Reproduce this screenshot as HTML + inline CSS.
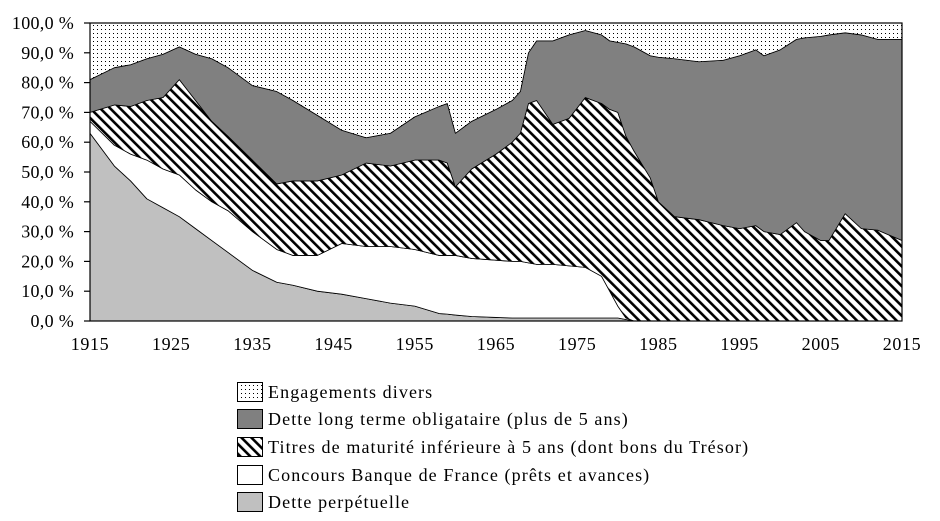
<!DOCTYPE html>
<html><head><meta charset="utf-8"><style>
body{margin:0;background:#fff;}
svg{display:block;font-family:"Liberation Serif",serif;}
</style></head><body>
<svg id="chart" width="940" height="521" viewBox="0 0 940 521" xmlns="http://www.w3.org/2000/svg">
<defs>
<pattern id="dots" patternUnits="userSpaceOnUse" width="4" height="4"><rect width="4" height="4" fill="#fff"/><rect x="1" y="1" width="1" height="1" fill="#000"/></pattern>
<pattern id="hatch" patternUnits="userSpaceOnUse" width="7" height="7" patternTransform="rotate(-45)"><rect width="7" height="7" fill="#fff"/><rect x="0" y="0" width="2.6" height="7" fill="#000"/></pattern>
</defs>
<g id="areas"></g>
<g id="axes"></g>
<g id="legend"></g>
</svg>
<script>
const years=[1915,1918,1920,1922,1924,1926,1928,1930,1932,1935,1938,1940,1943,1946,1949,1952,1955,1958,1959,1960,1962,1965,1967,1968,1969,1970,1972,1974,1976,1978,1979,1980,1981,1982,1984,1985,1987,1990,1993,1995,1997,1998,2000,2002,2003,2005,2006,2008,2010,2012,2015];
const perpetuelle=[63,52,47,41,38,35,31,27,23,17,13,12,10,9,7.5,6,5,2.5,2.3,2,1.5,1.2,1,1,1,1,1,1,1,1,1,1,0.5,0,0,0,0,0,0,0,0,0,0,0,0,0,0,0,0,0,0];
const concours=[4,7,9,13,13,14,13,13,14,13,11,10,12,17,17.5,19,19,19.5,19.7,20,19.5,19.2,19,19,18.5,18,18,17.5,17,14,9,4,0.5,0,0,0,0,0,0,0,0,0,0,0,0,0,0,0,0,0,0];
const titres=[3,13.5,16,20,24,32,30,27,25,24,22,25,25,23,28,27,30,32,31,23,30,35.6,40,43,53.5,55,47,49.5,57,58,61,65,61,57,48,40,35,34,32,31,32,30,29,33,30,27,27,36,31,30.5,27];
const longTerme=[11,12.5,14,14,14.5,11,15.5,21,23,25,31,27,22,15,8.5,11,14.5,18,20,18,16,15,14,14,17,20,28,28,22.5,23,23,23.5,31,35,41,48.5,53,53,55.5,58,59,59,62,61.5,65,68.5,69,60.7,65,64,67.5];
const divers=[19,15,14,12,10.5,8,10.5,12,15,21,23,26,31,36,38.5,37,31.5,28,27,37,33,29,26,23,10,6,6,4,2.5,4,6,6.5,7,8,11,11.5,12,13,12.5,11,9,11,9,5.5,5,4.5,4,3.3,4,5.5,5.5];
const yTicks=["0,0 %","10,0 %","20,0 %","30,0 %","40,0 %","50,0 %","60,0 %","70,0 %","80,0 %","90,0 %","100,0 %"];
const xTicks=[1915,1925,1935,1945,1955,1965,1975,1985,1995,2005,2015];
const legendLabels=["Engagements divers","Dette long terme obligataire (plus de 5 ans)","Titres de maturité inférieure à 5 ans (dont bons du Trésor)","Concours Banque de France (prêts et avances)","Dette perpétuelle"];

const X0=90,X1=902,Y0=321,Y1=23;
const xs=y=>X0+(y-1915)/(2015-1915)*(X1-X0);
const ys=v=>Y0-v/100*(Y0-Y1);
const NS="http://www.w3.org/2000/svg";
function mk(t,a,p){const e=document.createElementNS(NS,t);for(const k in a)e.setAttribute(k,a[k]);p.appendChild(e);return e;}

const series=[perpetuelle,concours,titres,longTerme,divers];
const fills=["#c0c0c0","#ffffff","url(#hatch)","#808080","url(#dots)"];
const names=["area-dette-perpetuelle","area-concours-banque-de-france","area-titres-court-terme","area-dette-long-terme","area-engagements-divers"];
const areas=document.getElementById('areas');
let base=years.map(()=>0);
series.forEach((s,i)=>{
  const top=base.map((b,j)=>b+s[j]);
  let d="M"+years.map((y,j)=>xs(y)+","+ys(top[j])).join(" L");
  for(let j=years.length-1;j>=0;j--)d+=" L"+xs(years[j])+","+ys(base[j]);
  d+=" Z";
  const p=mk('path',{d:d,fill:fills[i],stroke:"#000","stroke-width":"0.8","stroke-linejoin":"round"},areas);
  
  
  base=top;
});
const ax=document.getElementById('axes');
const frame=mk('rect',{x:X0,y:Y1,width:X1-X0,height:Y0-Y1,fill:"none",stroke:"#000","stroke-width":"1.2"},ax);


yTicks.forEach((t,i)=>{
  const y=ys(i*10);
  const tk=mk('line',{x1:84,x2:X0,y1:y,y2:y,stroke:"#000","stroke-width":"1.2"},ax);
  
  
  const tx=mk('text',{x:74,y:y+6,"text-anchor":"end","font-size":"18","letter-spacing":"0.3"},ax);
  tx.textContent=t;
  
  
});
xTicks.forEach(t=>{
  const tx=mk('text',{x:xs(t),y:350,"text-anchor":"middle","font-size":"18","letter-spacing":"0.6"},ax);
  tx.textContent=t;
  
  
});
const lg=document.getElementById('legend');
const lgFills=["url(#dots)","#808080","url(#hatch)","#ffffff","#c0c0c0"];
const lgY=[382,409,437,465,492];
legendLabels.forEach((l,i)=>{
  const r=mk('rect',{x:237.5,y:lgY[i]+0.5,width:25,height:19,fill:lgFills[i],stroke:"#000","stroke-width":"1"},lg);
  
  
  const tx=mk('text',{x:268,y:lgY[i]+16,"font-size":"18","letter-spacing":"1.1"},lg);
  tx.textContent=l;
  
  
});
</script>
</body></html>
